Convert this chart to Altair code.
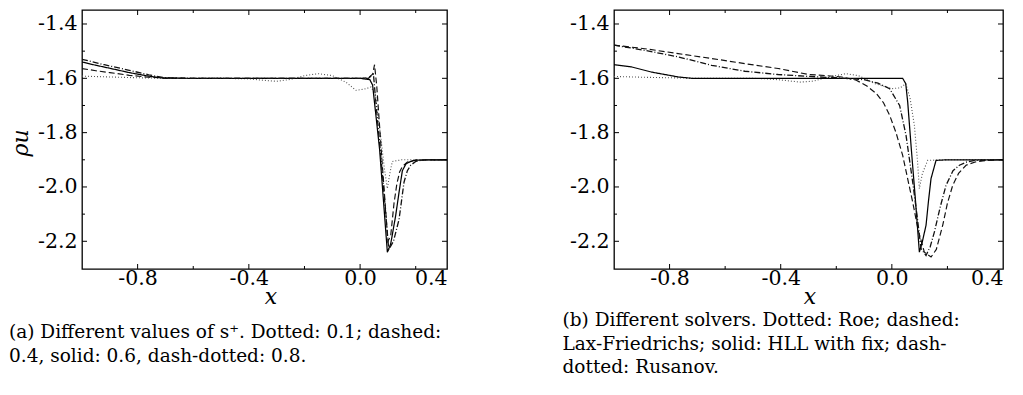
import altair as alt
import pandas as pd

# ---------------- panel (a): different values of s+ ----------------
a_dot_x = [-1.0, -0.9, -0.8, -0.7, -0.6, -0.5, -0.4, -0.35, -0.3, -0.25, -0.2, -0.15, -0.1, -0.05, -0.015,
           0.015, 0.039, 0.055, 0.075, 0.087, 0.098, 0.107, 0.116, 0.15, 0.2, 0.3125]
a_dot_y = [-1.592, -1.595, -1.598, -1.6, -1.6, -1.6, -1.602, -1.607, -1.611, -1.604, -1.59, -1.583, -1.59, -1.615, -1.644,
           -1.64, -1.632, -1.66, -1.822, -1.93, -2.006, -1.95, -1.906, -1.9, -1.9, -1.9]

a_dash_x = [-1.0, -0.95, -0.9, -0.83, -0.76, -0.7, -0.6, -0.3, 0.0, 0.03, 0.045, 0.052, 0.06, 0.08, 0.1,
            0.11, 0.122, 0.132, 0.142, 0.152, 0.17, 0.2, 0.3125]
a_dash_y = [-1.564, -1.572, -1.579, -1.589, -1.596, -1.599, -1.6, -1.6, -1.6, -1.598, -1.585, -1.55, -1.63, -1.92, -2.2,
            -2.18, -2.06, -1.99, -1.945, -1.925, -1.908, -1.901, -1.9]

a_solid_x = [-1.0, -0.95, -0.9, -0.83, -0.76, -0.71, -0.6, -0.3, 0.0, 0.035, 0.045, 0.07, 0.098, 0.11, 0.128,
             0.14, 0.152, 0.165, 0.182, 0.2, 0.3125]
a_solid_y = [-1.540, -1.552, -1.563, -1.579, -1.592, -1.599, -1.6, -1.6, -1.6, -1.605, -1.625, -1.86, -2.24, -2.21, -2.105,
             -2.02, -1.94, -1.915, -1.906, -1.901, -1.9]

a_dd_x = [-1.0, -0.92, -0.83, -0.76, -0.71, -0.65, -0.6, -0.3, 0.0, 0.03, 0.042, 0.048, 0.056, 0.08, 0.103,
          0.12, 0.14, 0.158, 0.17, 0.182, 0.2, 0.23, 0.3125]
a_dd_y = [-1.530, -1.55, -1.5705, -1.587, -1.597, -1.6, -1.6, -1.6, -1.6, -1.6, -1.59, -1.585, -1.68, -1.95, -2.23,
          -2.2, -2.12, -1.982, -1.94, -1.92, -1.906, -1.9, -1.9]

# ---------------- panel (b): different solvers ----------------
b_dot_x = [-1.0, -0.9, -0.8, -0.7, -0.6, -0.5, -0.45, -0.4, -0.33, -0.28, -0.23, -0.165, -0.12, -0.06, 0.0,
           0.03, 0.05, 0.065, 0.081, 0.092, 0.099, 0.11, 0.129, 0.2, 0.4]
b_dot_y = [-1.593, -1.596, -1.598, -1.6, -1.6, -1.6, -1.602, -1.606, -1.614, -1.61, -1.595, -1.583, -1.59, -1.62, -1.638,
           -1.635, -1.62, -1.67, -1.773, -1.9, -2.006, -1.95, -1.902, -1.9, -1.9]

b_dash_x = [-1.0, -0.889, -0.769, -0.649, -0.529, -0.409, -0.3, -0.236, -0.18, -0.128, -0.09, -0.056, -0.03, -0.008,
            0.015, 0.039, 0.057, 0.075, 0.095, 0.117, 0.141, 0.16, 0.183, 0.2, 0.219, 0.24, 0.267, 0.3, 0.327, 0.36, 0.4]
b_dash_y = [-1.478, -1.491, -1.509, -1.527, -1.546, -1.564, -1.586, -1.59, -1.595, -1.607, -1.628, -1.656, -1.69, -1.736,
            -1.8, -1.884, -1.97, -2.056, -2.16, -2.24, -2.258, -2.23, -2.141, -2.06, -1.994, -1.95, -1.92, -1.908, -1.904,
            -1.901, -1.9]

b_solid_x = [-1.0, -0.937, -0.865, -0.769, -0.72, -0.6, -0.3, 0.0, 0.039, 0.05, 0.057, 0.07, 0.085, 0.099, 0.11,
             0.123, 0.132, 0.141, 0.159, 0.2, 0.4]
b_solid_y = [-1.55, -1.558, -1.577, -1.595, -1.6, -1.6, -1.6, -1.6, -1.6, -1.62, -1.687, -1.86, -2.05, -2.24, -2.2,
             -2.141, -2.05, -1.969, -1.902, -1.9, -1.9]

b_dd_x = [-1.0, -0.889, -0.769, -0.649, -0.529, -0.409, -0.3, -0.2, -0.1, -0.05, -0.008, 0.028, 0.051, 0.075, 0.09,
          0.105, 0.123, 0.138, 0.153, 0.175, 0.195, 0.22, 0.243, 0.27, 0.3, 0.4]
b_dd_y = [-1.478, -1.497, -1.521, -1.552, -1.574, -1.586, -1.593, -1.598, -1.605, -1.618, -1.638, -1.70, -1.81, -1.982,
          -2.1, -2.227, -2.252, -2.22, -2.166, -2.07, -1.994, -1.94, -1.92, -1.908, -1.902, -1.9]

series_names = ["dotted", "dashed", "solid", "dashdot"]
series_dash = [[1, 2], [6, 3], [1, 0], [6, 2, 1, 2]]
series_color = ["#555555", "#111111", "#000000", "#111111"]
series_width = [1.1, 1.3, 1.3, 1.2]

# axis ticks / labels
y_domain = [-2.302, -1.3485]
y_major = [-1.4, -1.6, -1.8, -2.0, -2.2]
y_major_labels = ["-1.4", "-1.6", "-1.8", "-2.0", "-2.2"]
y_minor = [-1.5, -1.7, -1.9, -2.1]

a_x_domain = [-1.0, 0.3125]
a_x_major = [-0.8, -0.4, 0.0, 0.3125]
a_x_major_labels = ["-0.8", "-0.4", "0.0", "0.4"]
b_x_domain = [-1.0, 0.4]
b_x_major = [-0.8, -0.4, 0.0, 0.4]
b_x_major_labels = ["-0.8", "-0.4", "0.0", "0.4"]
x_minor = [-0.6, -0.2, 0.2]

caption_a = ["(a) Different values of s\u207a. Dotted: 0.1; dashed:",
             "0.4, solid: 0.6, dash-dotted: 0.8."]
caption_b = ["(b) Different solvers. Dotted: Roe; dashed:",
             "Lax-Friedrichs; solid: HLL with fix; dash-",
             "dotted: Rusanov."]

FONT = "DejaVu Serif"
H = 259
LABEL_SIZE = 20.5
TITLE_SIZE = 22


def label_expr(vals, labels):
    expr = "''"
    for v, l in zip(reversed(vals), reversed(labels)):
        expr = f"abs(datum.value - ({v})) < 0.000001 ? '{l}' : ({expr})"
    return expr


def make_df(xs_list, ys_list):
    rows = []
    for name, xs, ys in zip(series_names, xs_list, ys_list):
        for i, (x, y) in enumerate(zip(xs, ys)):
            rows.append({"x": x, "y": y, "s": name, "i": i})
    return pd.DataFrame(rows)


def panel(df, x_domain, x_major, x_major_labels, W, ytitle, title_x_off, caption, cap_dx, cap_offset):
    xs = alt.Scale(domain=x_domain, nice=False, zero=False)
    ys = alt.Scale(domain=y_domain, nice=False, zero=False)
    yaxis_kw = dict(values=y_major, labelExpr=label_expr(y_major, y_major_labels), ticks=False,
                    domain=False, grid=False, labelPadding=5, labelFont=FONT, labelFontSize=LABEL_SIZE)
    if ytitle:
        yaxis = alt.Axis(title=ytitle, titleX=-50, titleY=H / 2 + 3, titleFont=FONT, **yaxis_kw)
    else:
        yaxis = alt.Axis(title="", **yaxis_kw)
    xaxis = alt.Axis(title="x", values=x_major, labelExpr=label_expr(x_major, x_major_labels),
                     ticks=False, domain=False, grid=False, labelPadding=-1, labelFont=FONT,
                     labelFontSize=LABEL_SIZE, titleFont=FONT, titleX=W / 2 + title_x_off, titleY=34,
                     titleBaseline="alphabetic")
    lines = alt.Chart(df).mark_line(clip=True).encode(
        x=alt.X("x:Q", scale=xs, axis=xaxis),
        y=alt.Y("y:Q", scale=ys, axis=yaxis),
        detail="s:N",
        order="i:Q",
        color=alt.Color("s:N", scale=alt.Scale(domain=series_names, range=series_color), legend=None),
        strokeDash=alt.StrokeDash("s:N", scale=alt.Scale(domain=series_names, range=series_dash), legend=None),
        strokeWidth=alt.StrokeWidth("s:N", scale=alt.Scale(domain=series_names, range=series_width), legend=None),
    )
    layers = [lines]
    xmaj_in = [v for v in x_major if x_domain[0] < v < x_domain[1] - 1e-9]
    for vals, size in ((xmaj_in, 5), (x_minor, 3)):
        d = pd.DataFrame({"x": vals})
        layers.append(alt.Chart(d).mark_rule(color="black", strokeWidth=1).encode(
            x=alt.X("x:Q", scale=xs, axis=xaxis), y=alt.value(H), y2=alt.value(H - size)))
        layers.append(alt.Chart(d).mark_rule(color="black", strokeWidth=1).encode(
            x=alt.X("x:Q", scale=xs, axis=xaxis), y=alt.value(0), y2=alt.value(size)))
    for vals, size in ((y_major, 5), (y_minor, 3)):
        d = pd.DataFrame({"y": vals})
        layers.append(alt.Chart(d).mark_rule(color="black", strokeWidth=1).encode(
            y=alt.Y("y:Q", scale=ys, axis=yaxis), x=alt.value(0), x2=alt.value(size)))
        layers.append(alt.Chart(d).mark_rule(color="black", strokeWidth=1).encode(
            y=alt.Y("y:Q", scale=ys, axis=yaxis), x=alt.value(W), x2=alt.value(W - size)))
    return alt.layer(*layers).properties(
        width=W, height=H,
        title=alt.TitleParams(text=caption, orient="bottom", anchor="start", frame="bounds", dx=cap_dx,
                              offset=cap_offset, font=FONT, fontSize=18.5, fontWeight="normal",
                              lineHeight=23.5, color="black"),
    )


df_a = make_df([a_dot_x, a_dash_x, a_solid_x, a_dd_x], [a_dot_y, a_dash_y, a_solid_y, a_dd_y])
df_b = make_df([b_dot_x, b_dash_x, b_solid_x, b_dd_x], [b_dot_y, b_dash_y, b_solid_y, b_dd_y])

left = panel(df_a, a_x_domain, a_x_major, a_x_major_labels, 365, "\u03c1u", 6, caption_a, 0, 16)
right = panel(df_b, b_x_domain, b_x_major, b_x_major_labels, 389, None, 1, caption_b, -7, 4)

chart = alt.hconcat(left, right, spacing=112).properties(padding=0).configure_view(
    stroke="black", strokeWidth=1.3
).configure_axis(
    labelFont=FONT, labelFontSize=LABEL_SIZE, labelColor="black",
    titleFont=FONT, titleFontSize=TITLE_SIZE, titleFontStyle="italic", titleFontWeight="normal",
    titleColor="black",
)

chart.save("out.html", embed_options={"renderer": "svg", "actions": False})
